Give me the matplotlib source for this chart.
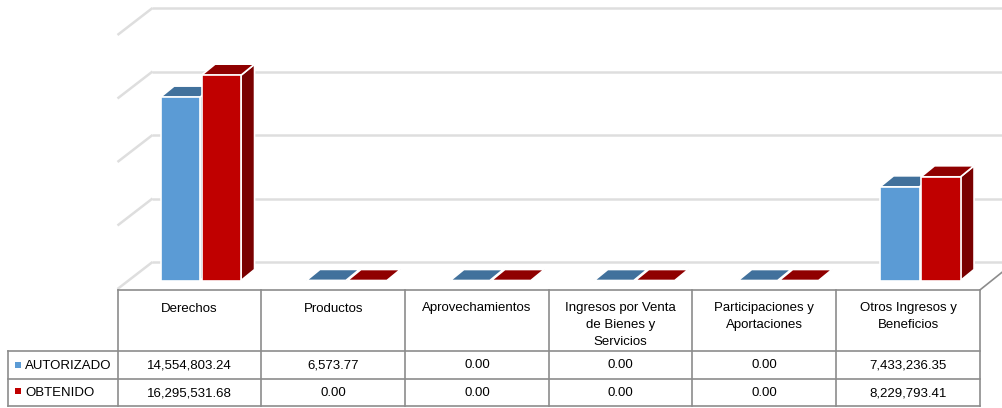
import matplotlib
matplotlib.use("Agg")
import matplotlib.pyplot as plt
from matplotlib.patches import Polygon
from matplotlib.transforms import Affine2D

categories = ["Derechos", "Productos", "Aprovechamientos",
              "Ingresos por Venta\nde Bienes y\nServicios",
              "Participaciones y\nAportaciones", "Otros Ingresos y\nBeneficios"]
series_names = ["AUTORIZADO", "OBTENIDO"]
autorizado = [14554803.24, 6573.77, 0.00, 0.00, 0.00, 7433236.35]
obtenido = [16295531.68, 0.00, 0.00, 0.00, 0.00, 8229793.41]
grid_values = [0, 5000000, 10000000, 15000000, 20000000]

W, H = 1003, 408
PX_PER_CAT = 143.9
PX_PER_VAL = 63.0 / 5e6
X0, Y0 = 200.8, 280.5   # pixel position of category 0 centre / zero on the bar plane

plt.rcParams["font.family"] = ["Liberation Sans", "DejaVu Sans"]
fig = plt.figure(figsize=(W / 100, H / 100), dpi=100, facecolor="white")
ax = fig.add_axes([0, 0, 1, 1])
ax.set_xlim((0 - X0) / PX_PER_CAT, (W - X0) / PX_PER_CAT)
ax.set_ylim((Y0 - H) / PX_PER_VAL, Y0 / PX_PER_VAL)
ax.axis("off")
px = Affine2D().scale(1 / W, -1 / H).translate(0, 1) + ax.transAxes

GRID = "#DEDEDE"
TABLE = "#8C8C8C"
TXT = "#000000"
FS = 9.5

# Walls: gridlines sit behind the bar plane, offset in depth
for v in grid_values:
    yb = Y0 - 18.5 - v * (63.5 / 5e6)
    ax.plot([152.5, W], [yb, yb], color=GRID, lw=1.8, transform=px, zorder=1,
            solid_capstyle="butt")
    ax.plot([117.5, 152.5], [yb + 27, yb], color=GRID, lw=1.8, transform=px, zorder=1,
            solid_capstyle="butt")

# Floor right edge
ax.plot([980.5, W], [289.5, 271.5], color=TABLE, lw=1.2, transform=px, zorder=1)

BAR_W = 39.5 / PX_PER_CAT
GAP = 1.5 / PX_PER_CAT
DX = 13.5 / PX_PER_CAT
DY = 11.0 / PX_PER_VAL
colors = [("#5B9BD5", "#41719C", "#2F5F8A"), ("#C00000", "#8F0000", "#7A0000")]


def bar(x0, val, col, z):
    front, top, side = col
    x1 = x0 + BAR_W
    ax.add_patch(Polygon([(x1, 0), (x1 + DX, DY), (x1 + DX, val + DY), (x1, val)],
                         fc=side, ec="white", lw=1.2, zorder=z))
    ax.add_patch(Polygon([(x0, val), (x0 + DX, val + DY), (x1 + DX, val + DY), (x1, val)],
                         fc=top, ec="white", lw=1.2, zorder=z))
    if val > 1e5:
        ax.add_patch(Polygon([(x0, 0), (x1, 0), (x1, val), (x0, val)],
                             fc=front, ec="white", lw=1.2, zorder=z + 0.1))


for i, (a, o) in enumerate(zip(autorizado, obtenido)):
    shift = 0 if a > 1e5 else 2.0 / PX_PER_CAT
    bar(i - BAR_W - GAP / 2 + shift, a, colors[0], 3)
    bar(i + GAP / 2 + shift, o, colors[1], 4)

# Table grid
col_x = [117.7 + 143.7 * k for k in range(7)]
rows_y = [289.5, 351, 378.7, 405.6]
for x in col_x:
    ax.plot([x, x], [rows_y[0], rows_y[3]], color=TABLE, lw=1.2, transform=px, zorder=5)
ax.plot([col_x[0], col_x[6]], [rows_y[0]] * 2, color=TABLE, lw=1.2, transform=px, zorder=5)
for y in rows_y[1:]:
    ax.plot([8, col_x[6]], [y, y], color=TABLE, lw=1.2, transform=px, zorder=5)
ax.plot([8, 8], [rows_y[1], rows_y[3]], color=TABLE, lw=1.2, transform=px, zorder=5)

# Table text
for k, name in enumerate(categories):
    cx = (col_x[k] + col_x[k + 1]) / 2
    ax.text(cx, 302.5, name, transform=px, ha="center", va="top", fontsize=FS,
            color=TXT, linespacing=1.55, zorder=6)
    ax.text(cx, 365.5, f"{autorizado[k]:,.2f}", transform=px, ha="center", va="center",
            fontsize=FS, color=TXT, zorder=6)
    ax.text(cx, 393, f"{obtenido[k]:,.2f}", transform=px, ha="center", va="center",
            fontsize=FS, color=TXT, zorder=6)

for name, y, col in zip(series_names, [364.8, 391.3], colors):
    ax.add_patch(Polygon([(15, y - 3), (21, y - 3), (21, y + 3), (15, y + 3)],
                         fc=col[0], ec="none", transform=px, zorder=6))
    ax.text(25, y + 1.2, name, transform=px, ha="left", va="center", fontsize=FS,
            color=TXT, zorder=6)

fig.savefig("out.png", dpi=100)
